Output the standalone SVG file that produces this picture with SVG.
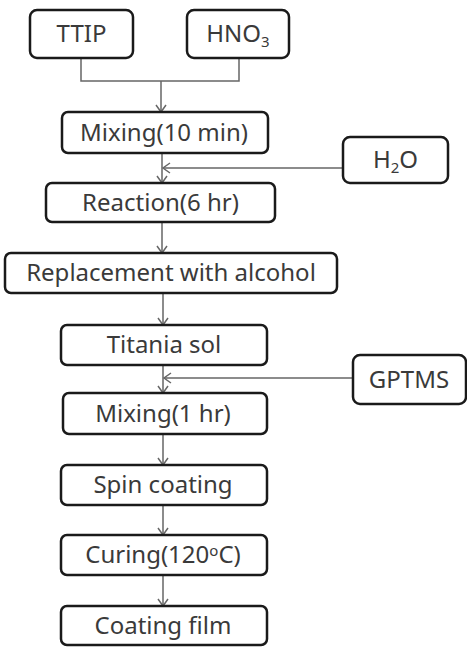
<svg xmlns="http://www.w3.org/2000/svg" width="467" height="647" viewBox="0 0 467 647">
<defs>
<style>
.box{fill:#fff;stroke:#1a1a1a;stroke-width:2.5}
.lbl{font-family:"Noto Sans","DejaVu Sans",sans-serif;font-size:24px;fill:#3a3a3a;text-anchor:middle}
.sub{font-size:15px}
.con{fill:none;stroke:#666;stroke-width:1.5}
</style>
<marker id="arr" markerUnits="userSpaceOnUse" markerWidth="14" markerHeight="14" viewBox="-10 -7 12 14" refX="0" refY="0" orient="auto">
<path d="M-7,-5 L0,0 L-7,5" fill="none" stroke="#666" stroke-width="1.5"/>
</marker>
</defs>
<rect width="467" height="647" fill="#fff"/>
<g id="connectors">
<path class="con" d="M81,58 V81 H239 V58"/>
<path class="con" d="M161,81 V112" marker-end="url(#arr)"/>
<path class="con" d="M162,153 V183" marker-end="url(#arr)"/>
<path class="con" d="M343,168 H163" marker-end="url(#arr)"/>
<path class="con" d="M162,222 V253" marker-end="url(#arr)"/>
<path class="con" d="M163,293 V325" marker-end="url(#arr)"/>
<path class="con" d="M163,365 V393" marker-end="url(#arr)"/>
<path class="con" d="M353,378 H164" marker-end="url(#arr)"/>
<path class="con" d="M163,434 V465" marker-end="url(#arr)"/>
<path class="con" d="M163,505 V535" marker-end="url(#arr)"/>
<path class="con" d="M163,575 V606" marker-end="url(#arr)"/>
</g>
<g id="ttip"><rect class="box" x="30" y="10" width="103" height="48" rx="7"/><text class="lbl" x="81.5" y="42">TTIP</text></g>
<g id="hno3"><rect class="box" x="187" y="10" width="102" height="48" rx="7"/><text class="lbl" x="238" y="42">HNO<tspan class="sub" dy="5">3</tspan></text></g>
<g id="mixing10"><rect class="box" x="62" y="112" width="206" height="41" rx="6"/><text class="lbl" x="164" y="141">Mixing(10 min)</text></g>
<g id="h2o"><rect class="box" x="343" y="137" width="105" height="46" rx="7"/><text class="lbl" x="395.5" y="168">H<tspan class="sub" dy="5">2</tspan><tspan dy="-5">O</tspan></text></g>
<g id="reaction"><rect class="box" x="46" y="183" width="229" height="39" rx="6"/><text class="lbl" x="160.5" y="211">Reaction(6 hr)</text></g>
<g id="replacement"><rect class="box" x="5" y="253" width="332" height="40" rx="6"/><text class="lbl" x="171" y="281">Replacement with alcohol</text></g>
<g id="titania"><rect class="box" x="61" y="325" width="206" height="40" rx="6"/><text class="lbl" x="164" y="353">Titania sol</text></g>
<g id="gptms"><rect class="box" x="353" y="355" width="113" height="49" rx="7"/><text class="lbl" x="409" y="388">GPTMS</text></g>
<g id="mixing1"><rect class="box" x="63" y="393" width="204" height="41" rx="6"/><text class="lbl" x="163" y="422">Mixing(1 hr)</text></g>
<g id="spin"><rect class="box" x="61" y="465" width="206" height="40" rx="6"/><text class="lbl" x="163" y="493">Spin coating</text></g>
<g id="curing"><rect class="box" x="61" y="535" width="206" height="40" rx="6"/><text class="lbl" x="163" y="563">Curing(120<tspan class="sub" dy="-7">o</tspan><tspan dy="7">C)</tspan></text></g>
<g id="film"><rect class="box" x="61" y="606" width="206" height="39" rx="6"/><text class="lbl" x="163" y="634">Coating film</text></g>
</svg>
